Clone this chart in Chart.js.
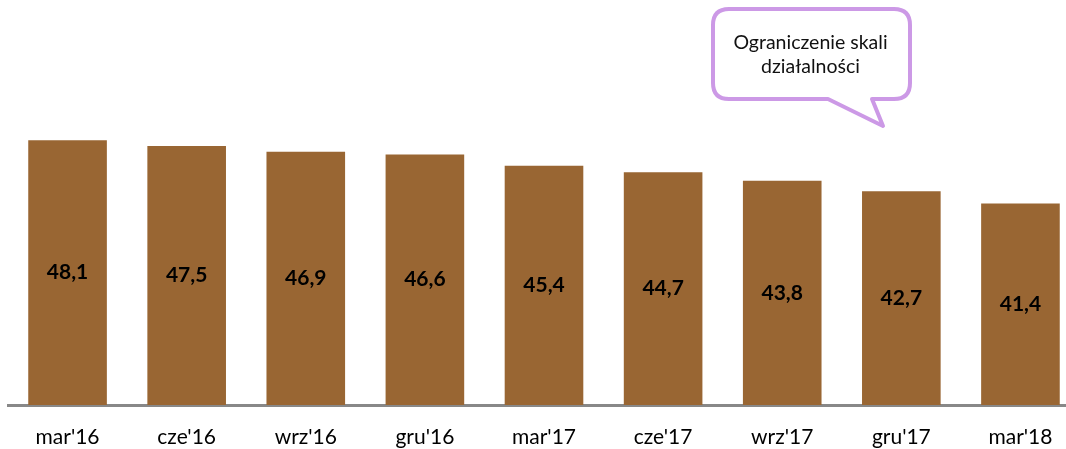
<!DOCTYPE html>
<html>
<head>
<meta charset="utf-8">
<script src="https://cdn.jsdelivr.net/npm/chart.js@4"></script>
<style>
  html, body { margin: 0; padding: 0; background: #fff; overflow: hidden; }
  #wrap { position: relative; width: 1080px; height: 449px; }
</style>
</head>
<body>
<div id="wrap"><canvas id="chart"></canvas></div>
<script>
const categories = ["mar'16", "cze'16", "wrz'16", "gru'16", "mar'17", "cze'17", "wrz'17", "gru'17", "mar'18"];
const values = [48.1, 47.5, 46.9, 46.6, 45.4, 44.7, 43.8, 42.7, 41.4];
const calloutLines = ['Ograniczenie skali', 'działalności'];

const barColor = '#996633';
const fontFamily = 'Lato, "Open Sans", sans-serif';

// value labels in the middle of each bar
const valueLabels = {
    id: 'valueLabels',
    afterDatasetsDraw(chart) {
        const ctx = chart.ctx;
        const meta = chart.getDatasetMeta(0);
        const bottom = chart.scales.y.bottom;
        ctx.save();
        ctx.font = 'bold 21px ' + fontFamily;
        ctx.fillStyle = '#000';
        ctx.textAlign = 'center';
        ctx.textBaseline = 'middle';
        meta.data.forEach((bar, i) => {
            const mid = (bar.y + bottom) / 2;
            ctx.fillText(values[i].toFixed(1).replace('.', ','), bar.x, mid);
        });
        ctx.restore();
    }
};

// speech bubble in the top right
const callout = {
    id: 'callout',
    afterDraw(chart) {
        const ctx = chart.ctx;
        const x = 713, y = 9, w = 197, h = 90, r = 16;
        const tailA = 828, tailB = 872, tipX = 883, tipY = 126;
        ctx.save();
        ctx.beginPath();
        ctx.moveTo(x + r, y);
        ctx.lineTo(x + w - r, y);
        ctx.quadraticCurveTo(x + w, y, x + w, y + r);
        ctx.lineTo(x + w, y + h - r);
        ctx.quadraticCurveTo(x + w, y + h, x + w - r, y + h);
        ctx.lineTo(tailB, y + h);
        ctx.lineTo(tipX, tipY);
        ctx.lineTo(tailA, y + h);
        ctx.lineTo(x + r, y + h);
        ctx.quadraticCurveTo(x, y + h, x, y + h - r);
        ctx.lineTo(x, y + r);
        ctx.quadraticCurveTo(x, y, x + r, y);
        ctx.closePath();
        ctx.fillStyle = '#fff';
        ctx.fill();
        ctx.lineWidth = 4;
        ctx.strokeStyle = '#CC99E6';
        ctx.lineJoin = 'round';
        ctx.stroke();
        ctx.font = '19.5px ' + fontFamily;
        ctx.fillStyle = '#111';
        ctx.textAlign = 'center';
        ctx.textBaseline = 'middle';
        ctx.fillText(calloutLines[0], x + w / 2 - 1, 43);
        ctx.fillText(calloutLines[1], x + w / 2 - 1, 67);
        ctx.restore();
    }
};

new Chart(document.getElementById('chart'), {
    type: 'bar',
    data: {
        labels: categories,
        datasets: [{
            data: values,
            backgroundColor: barColor,
            borderWidth: 0,
            barPercentage: 0.66,
            categoryPercentage: 1
        }]
    },
    options: {
        responsive: true,
        maintainAspectRatio: false,
        animation: false,
        layout: { padding: { left: 8, right: 0, top: 0, bottom: 0 } },
        plugins: {
            legend: { display: false },
            tooltip: { enabled: false }
        },
        scales: {
            x: {
                grid: { display: false },
                border: { color: '#888888', width: 3 },
                ticks: {
                    color: '#000',
                    font: { size: 21, family: fontFamily },
                    padding: 12,
                    maxRotation: 0
                },
                afterFit(scale) { scale.height = 44; }
            },
            y: {
                display: false,
                min: 20,
                max: 63
            }
        }
    },
    plugins: [valueLabels, callout]
});
</script>
</body>
</html>
